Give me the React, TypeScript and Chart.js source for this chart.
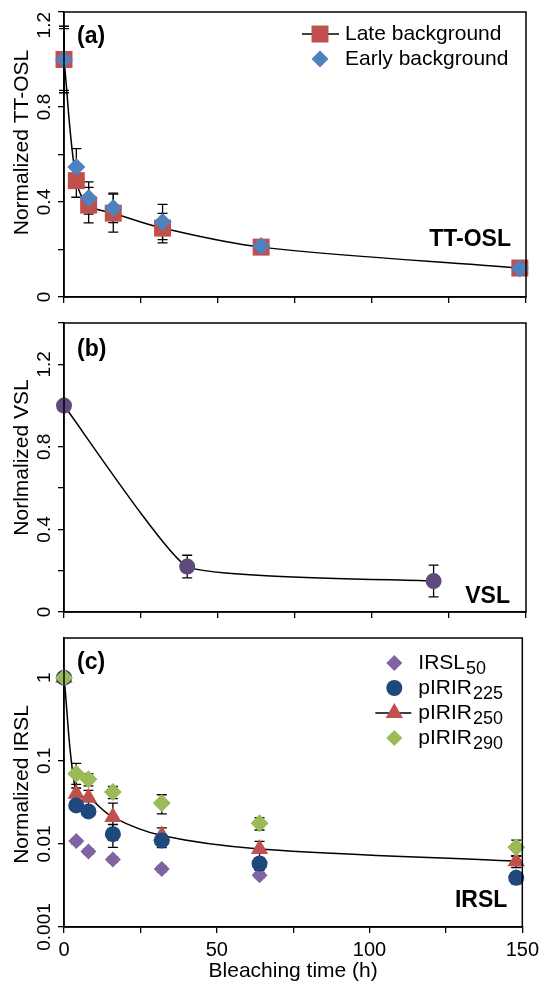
import React, { useEffect, useRef } from 'react';
import { Chart, registerables } from 'chart.js';
Chart.register(...registerables);

const FONT = '"Liberation Sans", Arial, Helvetica, sans-serif';

// ---------- Panel (a): TT-OSL ----------
const TIME_A = [0, 4, 8, 16, 32, 64, 148];
const LATE_BACKGROUND = [1.0, 0.49, 0.387, 0.353, 0.29, 0.21, 0.122];
const LATE_BACKGROUND_ERR = [0.14, 0.07, 0.075, 0.08, 0.062, 0.012, 0.012];
const EARLY_BACKGROUND = [1.0, 0.547, 0.417, 0.375, 0.316, 0.215, 0.12];
const EARLY_BACKGROUND_ERR = [0.13, 0.078, 0.068, 0.062, 0.074, 0.012, 0.012];
const Y_TICKS_A = ['0', '0.4', '0.8', '1.2'];

// ---------- Panel (b): VSL ----------
const TIME_B = [0, 40, 120];
const VSL = [1.0, 0.22, 0.15];
const VSL_ERR = [0, 0.055, 0.077];
const Y_TICKS_B = ['0', '0.4', '0.8', '1.2'];

// ---------- Panel (c): IRSL ----------
const TIME_C = [0, 4, 8, 16, 32, 64, 148];
const IRSL50 = [1.0, 0.0108, 0.0081, 0.0065, 0.005, 0.0042, 0.004];
const IRSL50_ERR = [0, 0.0008, 0.0006, 0.0005, 0.0004, 0.0003, 0.0003];
const PIRIR225 = [1.0, 0.029, 0.0246, 0.0131, 0.011, 0.0058, 0.0039];
const PIRIR225_ERR = [0, 0.004, 0.003, 0.004, 0.002, 0.001, 0.0006];
const PIRIR250 = [1.0, 0.04, 0.036, 0.021, 0.0126, 0.0087, 0.0062];
const PIRIR250_ERR = [0, 0.012, 0.008, 0.01, 0.003, 0.002, 0.001];
const PIRIR290 = [1.0, 0.07, 0.06, 0.042, 0.031, 0.0177, 0.0091];
const PIRIR290_ERR = [0, 0.023, 0.01, 0.007, 0.008, 0.003, 0.002];
const Y_TICKS_C = ['0.001', '0.01', '0.1', '1'];
const X_TICKS = ['0', '50', '100', '150'];

const RED = '#C0504D';
const BLUE = '#4F81BD';
const PURPLE = '#8064A2';
const DARK_PURPLE = '#5F497A';
const DARK_BLUE = '#1F497D';
const GREEN = '#9BBB59';

const pts = (xs: number[], ys: number[]) => xs.map((x, i) => ({ x, y: ys[i] }));

function drawMarker(ctx: CanvasRenderingContext2D, style: string, x: number, y: number, r: number, color: string) {
  ctx.save();
  ctx.fillStyle = color;
  ctx.beginPath();
  if (style === 'circle') {
    ctx.arc(x, y, r, 0, Math.PI * 2);
  } else if (style === 'rect') {
    const s = r * Math.SQRT1_2;
    ctx.rect(x - s, y - s, 2 * s, 2 * s);
  } else if (style === 'rectRot') {
    ctx.moveTo(x - r, y);
    ctx.lineTo(x, y - r);
    ctx.lineTo(x + r, y);
    ctx.lineTo(x, y + r);
    ctx.closePath();
  } else if (style === 'triangle') {
    ctx.moveTo(x, y - r);
    ctx.lineTo(x + r * 0.866, y + r * 0.5);
    ctx.lineTo(x - r * 0.866, y + r * 0.5);
    ctx.closePath();
  }
  ctx.fill();
  ctx.restore();
}

type LegendItem = { base: string; sub?: string; style: string; color: string; r: number; line?: boolean };
type TextItem = { text: string; dx: number; dy: number; from: 'tl' | 'br'; align: CanvasTextAlign };
type DecorCfg = {
  yTitle: string;
  yTitleShift: number;
  yLabels: string[];
  texts: TextItem[];
  legend: { items: LegendItem[]; markerDx: number; textDx: number; lineDx: [number, number]; dy0: number; step: number };
};

function decor(cfg: DecorCfg) {
  return {
    id: 'decor',
    beforeDatasetsDraw(chart: any) {
      const ctx = chart.ctx as CanvasRenderingContext2D;
      const xs = chart.scales.x;
      const ys = chart.scales.y;
      ctx.save();
      ctx.strokeStyle = '#000';
      ctx.lineWidth = 1.3;
      chart.data.datasets.forEach((ds: any) => {
        if (!ds.errors) return;
        ds.data.forEach((p: any, i: number) => {
          const e = ds.errors[i];
          if (!e) return;
          const x = xs.getPixelForValue(p.x);
          const y1 = ys.getPixelForValue(p.y + e);
          const y2 = ys.getPixelForValue(Math.max(p.y - e, ys.min));
          ctx.beginPath();
          ctx.moveTo(x, y1);
          ctx.lineTo(x, y2);
          ctx.moveTo(x - 5, y1);
          ctx.lineTo(x + 5, y1);
          ctx.moveTo(x - 5, y2);
          ctx.lineTo(x + 5, y2);
          ctx.stroke();
        });
      });
      ctx.restore();
    },
    afterDraw(chart: any) {
      const ctx = chart.ctx as CanvasRenderingContext2D;
      const a = chart.chartArea;
      const ys = chart.scales.y;
      ctx.save();
      // frame
      ctx.strokeStyle = '#000';
      ctx.lineWidth = 1.5;
      ctx.strokeRect(a.left, a.top, a.right - a.left, a.bottom - a.top);
      // rotated y axis title
      ctx.fillStyle = '#000';
      ctx.textAlign = 'center';
      ctx.textBaseline = 'middle';
      ctx.font = `21px ${FONT}`;
      ctx.save();
      ctx.translate(22, (a.top + a.bottom) / 2 + cfg.yTitleShift);
      ctx.rotate(-Math.PI / 2);
      ctx.fillText(cfg.yTitle, 0, 0);
      ctx.restore();
      // rotated y tick labels
      ctx.font = `19px ${FONT}`;
      cfg.yLabels.forEach((lab) => {
        let py = ys.getPixelForValue(parseFloat(lab));
        const w = ctx.measureText(lab).width;
        if (py - w / 2 < a.top) py = a.top + w / 2;
        ctx.save();
        ctx.translate(45, py);
        ctx.rotate(-Math.PI / 2);
        ctx.fillText(lab, 0, 0);
        ctx.restore();
      });
      // annotation texts
      ctx.font = `bold 23px ${FONT}`;
      cfg.texts.forEach((t) => {
        ctx.textAlign = t.align;
        const x = t.from === 'tl' ? a.left + t.dx : a.right - t.dx;
        const y = t.from === 'tl' ? a.top + t.dy : a.bottom - t.dy;
        ctx.fillText(t.text, x, y);
      });
      // legend
      const L = cfg.legend;
      L.items.forEach((it, i) => {
        const y = a.top + L.dy0 + i * L.step;
        if (it.line) {
          ctx.strokeStyle = '#000';
          ctx.lineWidth = 1.5;
          ctx.beginPath();
          ctx.moveTo(a.right - L.lineDx[0], y);
          ctx.lineTo(a.right - L.lineDx[1], y);
          ctx.stroke();
        }
        drawMarker(ctx, it.style, a.right - L.markerDx, y, it.r, it.color);
        ctx.fillStyle = '#000';
        ctx.textAlign = 'left';
        ctx.textBaseline = 'middle';
        ctx.font = `21px ${FONT}`;
        const tx = a.right - L.textDx;
        ctx.fillText(it.base, tx, y);
        if (it.sub) {
          const w = ctx.measureText(it.base).width;
          ctx.font = `18px ${FONT}`;
          ctx.fillText(it.sub, tx + w + 1, y + 6);
        }
      });
      ctx.restore();
    },
  };
}

function xScale(showLabels: boolean, height: number) {
  return {
    type: 'linear',
    min: 0,
    max: 150,
    ticks: {
      display: showLabels,
      stepSize: 25,
      autoSkip: false,
      maxRotation: 0,
      color: '#000',
      padding: 5,
      font: { family: FONT, size: 20 },
      callback: (v: number) => (X_TICKS.includes(String(v)) ? String(v) : ''),
    },
    grid: { drawOnChartArea: false, drawTicks: true, tickLength: 6, color: '#000', lineWidth: 1.3 },
    border: { display: true, color: '#000', width: 1.5 },
    title: {
      display: showLabels,
      text: 'Bleaching time (h)',
      color: '#000',
      font: { family: FONT, size: 21 },
      padding: { top: 0, bottom: 1 },
    },
    afterFit: (s: any) => {
      s.height = height;
    },
  };
}

function yScale(extra: any) {
  return {
    ticks: { display: false },
    grid: { drawOnChartArea: false, drawTicks: true, tickLength: 6, color: '#000', lineWidth: 1.3 },
    border: { display: true, color: '#000', width: 1.5 },
    title: { display: false },
    afterFit: (s: any) => {
      s.width = 64;
    },
    ...extra,
  };
}

function baseOptions(padTop: number, scales: any) {
  return {
    responsive: false,
    animation: false,
    events: [],
    layout: { padding: { top: padTop, right: 18, bottom: 0, left: 0 } },
    plugins: { legend: { display: false }, tooltip: { enabled: false }, title: { display: false } },
    scales,
  };
}

function configA(): any {
  return {
    type: 'scatter',
    data: {
      datasets: [
        {
          label: 'Early background',
          data: pts(TIME_A, EARLY_BACKGROUND),
          errors: EARLY_BACKGROUND_ERR,
          pointStyle: 'rectRot',
          pointRadius: 9,
          pointBackgroundColor: BLUE,
          pointBorderWidth: 0,
          order: 0,
          clip: false,
        },
        {
          label: 'Late background',
          data: pts(TIME_A, LATE_BACKGROUND),
          errors: LATE_BACKGROUND_ERR,
          showLine: true,
          borderColor: '#000',
          borderWidth: 1.5,
          tension: 0.35,
          pointStyle: 'rect',
          pointRadius: 12,
          pointBackgroundColor: RED,
          pointBorderWidth: 0,
          order: 1,
          clip: false,
        },
      ],
    },
    options: baseOptions(10, {
      x: xScale(false, 13),
      y: yScale({ type: 'linear', min: 0, max: 1.2, ticks: { display: false, stepSize: 0.2 } }),
    }),
    plugins: [
      decor({
        yTitle: 'Normalized TT-OSL',
        yTitleShift: -12,
        yLabels: Y_TICKS_A,
        texts: [
          { text: '(a)', dx: 13, dy: 25, from: 'tl', align: 'left' },
          { text: 'TT-OSL', dx: 15, dy: 57, from: 'br', align: 'right' },
        ],
        legend: {
          items: [
            { base: 'Late background', style: 'rect', color: RED, r: 12, line: true },
            { base: 'Early background', style: 'rectRot', color: BLUE, r: 8.5 },
          ],
          markerDx: 206,
          textDx: 181,
          lineDx: [224, 187],
          dy0: 22,
          step: 25,
        },
      }),
    ],
  };
}

function configB(): any {
  return {
    type: 'scatter',
    data: {
      datasets: [
        {
          label: 'VSL',
          data: pts(TIME_B, VSL),
          errors: VSL_ERR,
          showLine: true,
          borderColor: '#000',
          borderWidth: 1.5,
          tension: 0.12,
          pointStyle: 'circle',
          pointRadius: 8,
          pointBackgroundColor: DARK_PURPLE,
          pointBorderWidth: 0,
          clip: false,
        },
      ],
    },
    options: baseOptions(13, {
      x: xScale(false, 7),
      y: yScale({ type: 'linear', min: 0, max: 1.4, ticks: { display: false, stepSize: 0.2 } }),
    }),
    plugins: [
      decor({
        yTitle: 'Norlmalized VSL',
        yTitleShift: -10,
        yLabels: Y_TICKS_B,
        texts: [
          { text: '(b)', dx: 13, dy: 27, from: 'tl', align: 'left' },
          { text: 'VSL', dx: 16, dy: 15, from: 'br', align: 'right' },
        ],
        legend: { items: [], markerDx: 0, textDx: 0, lineDx: [0, 0], dy0: 0, step: 0 },
      }),
    ],
  };
}

function configC(): any {
  const mk = (label: string, ys: number[], errs: number[], style: string, r: number, color: string, order: number, line = false) => ({
    label,
    data: pts(TIME_C, ys),
    errors: errs,
    showLine: line,
    borderColor: '#000',
    borderWidth: 1.5,
    tension: 0.35,
    pointStyle: style,
    pointRadius: r,
    pointBackgroundColor: color,
    pointBorderWidth: 0,
    order,
    clip: false,
  });
  return {
    type: 'scatter',
    data: {
      datasets: [
        mk('pIRIR290', PIRIR290, PIRIR290_ERR, 'rectRot', 9, GREEN, 0),
        mk('pIRIR225', PIRIR225, PIRIR225_ERR, 'circle', 8, DARK_BLUE, 1),
        mk('pIRIR250', PIRIR250, PIRIR250_ERR, 'triangle', 10, RED, 2, true),
        mk('IRSL50', IRSL50, IRSL50_ERR, 'rectRot', 8, PURPLE, 3),
      ],
    },
    options: baseOptions(18, {
      x: xScale(true, 58),
      y: yScale({
        type: 'logarithmic',
        min: 0.001,
        max: 3,
        afterBuildTicks: (s: any) => {
          s.ticks = Y_TICKS_C.map((v) => ({ value: parseFloat(v) }));
        },
      }),
    }),
    plugins: [
      decor({
        yTitle: 'Normalized IRSL',
        yTitleShift: 2,
        yLabels: Y_TICKS_C,
        texts: [
          { text: '(c)', dx: 13, dy: 25, from: 'tl', align: 'left' },
          { text: 'IRSL', dx: 15, dy: 26, from: 'br', align: 'right' },
        ],
        legend: {
          items: [
            { base: 'IRSL', sub: '50', style: 'rectRot', color: PURPLE, r: 8 },
            { base: 'pIRIR', sub: '225', style: 'circle', color: DARK_BLUE, r: 8 },
            { base: 'pIRIR', sub: '250', style: 'triangle', color: RED, r: 10, line: true },
            { base: 'pIRIR', sub: '290', style: 'rectRot', color: GREEN, r: 8 },
          ],
          markerDx: 128,
          textDx: 104,
          lineDx: [147, 111],
          dy0: 25,
          step: 25,
        },
      }),
    ],
  };
}

function Panel({ top, height, build }: { top: number; height: number; build: () => any }) {
  const ref = useRef<HTMLCanvasElement>(null);
  useEffect(() => {
    const chart = new Chart(ref.current as HTMLCanvasElement, build());
    return () => chart.destroy();
  }, []);
  return (
    <canvas
      ref={ref}
      width={544}
      height={height}
      style={{ position: 'absolute', left: 0, top, width: 544, height }}
    />
  );
}

export default function App() {
  return (
    <div style={{ position: 'absolute', left: 0, top: 0, width: 544, height: 985, background: '#fff' }}>
      <Panel top={0} height={310} build={configA} />
      <Panel top={310} height={310} build={configB} />
      <Panel top={620} height={365} build={configC} />
    </div>
  );
}
